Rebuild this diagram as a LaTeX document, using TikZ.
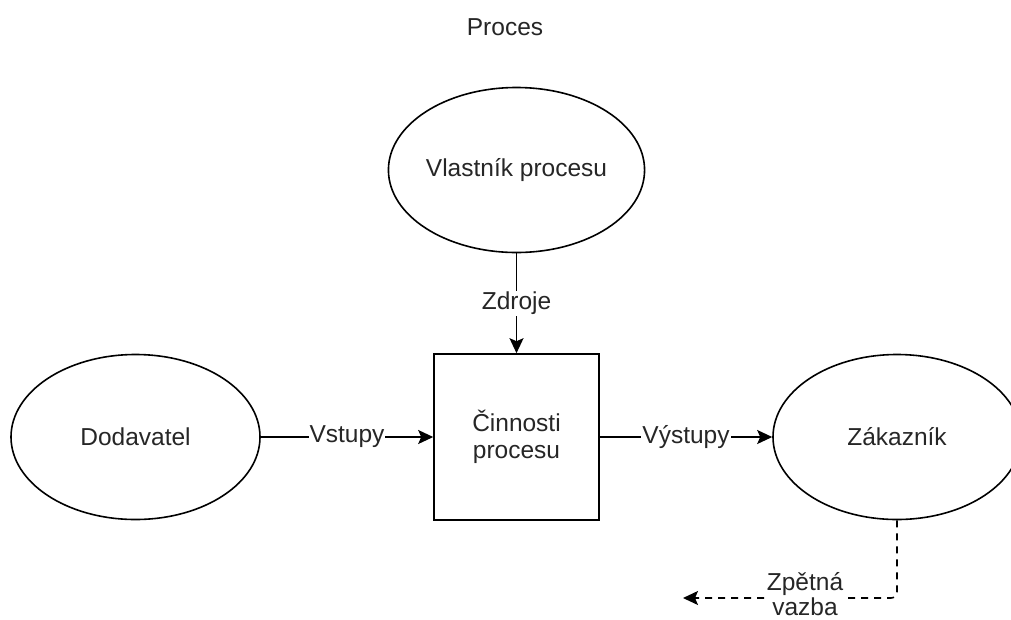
\documentclass[tikz,border=0pt]{standalone}
\usepackage{fontspec}
\setmainfont{Liberation Sans}
\usetikzlibrary{arrows.meta,shapes.geometric}
\definecolor{txt}{HTML}{262626}
\tikzset{
  lbl/.style={font=\fontsize{24.5}{27}\selectfont, text=txt},
  oval/.style={ellipse, draw=black, line width=1.6pt, minimum width=248pt, minimum height=165pt, inner sep=0pt, lbl},
  box/.style={rectangle, draw=black, line width=1.6pt, minimum width=165pt, minimum height=166pt, inner sep=0pt, align=center, lbl},
  conn/.style={draw=black, line width=1.6pt, -{Stealth[length=15pt,width=14pt,inset=3pt]}},
  elbl/.style={lbl, fill=white, inner sep=1pt, align=center},
}
\begin{document}
\begin{tikzpicture}[x=1pt,y=-1pt]
\useasboundingbox (0,0) rectangle (1011,619);
\node[lbl] (title) at (505,27) {Proces};
\node[oval] (owner) at (516.5,170) {Vlastník procesu};
\node[box] (act) at (516.5,437) {Činnosti\\procesu};
\node[oval, minimum width=249pt] (sup) at (135.5,437) {Dodavatel};
\node[oval] (cust) at (897,437) {Zákazník};
\coordinate (fbend) at (897,598);
\coordinate (fend) at (683,598);
\draw[conn] (owner.south) -- node[elbl] {Zdroje} (act.north);
\draw[conn] (sup.east) -- node[elbl] {Vstupy} (act.west);
\draw[conn] (act.east) -- node[elbl] {Výstupy} (cust.west);
\draw[conn, dash pattern=on 7pt off 6pt, rounded corners=6pt] (cust.south) -- (fbend) -- (fend);
\node[elbl, font=\fontsize{24.5}{25}\selectfont, inner sep=0pt] (fb) at (805,594) {Zpětná\\vazba};
\end{tikzpicture}
\end{document}
